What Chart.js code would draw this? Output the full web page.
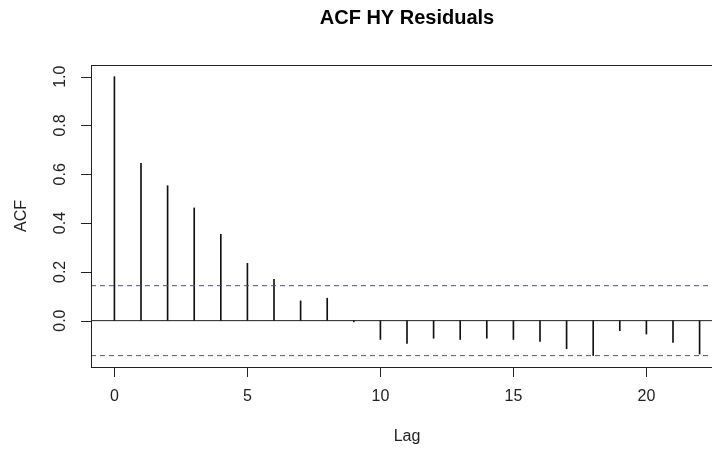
<!DOCTYPE html>
<html lang="en">
<head>
    <meta charset="UTF-8">
    <title>ACF HY Residuals</title>
    <script src="https://cdn.jsdelivr.net/npm/chart.js"></script>
    <style>
        html, body { margin: 0; padding: 0; background: #fff; overflow: hidden; }
        #wrap { width: 724px; height: 451px; }
    </style>
</head>
<body>
    <div id="wrap">
        <canvas id="acfChart" width="724" height="451"></canvas>
    </div>

    <script>
        // Lags and autocorrelations
        const lags = [0, 1, 2, 3, 4, 5, 6, 7, 8, 9, 10, 11, 12, 13, 14, 15, 16, 17, 18, 19, 20, 21, 22];
        const acfValues = [1.0, 0.645, 0.553, 0.462, 0.354, 0.235, 0.169, 0.081, 0.092, -0.005,
            -0.077, -0.093, -0.072, -0.077, -0.072, -0.077, -0.085, -0.115, -0.143, -0.041,
            -0.055, -0.089, -0.137];
        const ciBound = 0.1434;
        const xTicks = [0, 5, 10, 15, 20];
        const yTicks = [0.0, 0.2, 0.4, 0.6, 0.8, 1.0];
        const xRange = [-0.88, 22.88];
        const yRange = [-0.19, 1.048];

        const FONT = "'Liberation Sans', Arial, sans-serif";
        const TEXT = '#222';
        const CI_COLOR = '#4848c0';
        const TICK_LEN = 10;

        // R style: box, tick marks, rotated y tick labels, titles
        const rStylePlugin = {
            id: 'rStyle',
            afterDraw(chart) {
                const c = chart.ctx;
                const area = chart.chartArea;
                const xScale = chart.scales.x;
                const yScale = chart.scales.y;

                c.save();
                c.setLineDash([]);
                c.strokeStyle = '#222';
                c.lineWidth = 1;
                c.strokeRect(area.left + 0.5, area.top + 0.5, area.right - area.left, area.bottom - area.top);

                // tick marks, placed with the chart's own scales
                c.beginPath();
                xTicks.forEach(v => {
                    const px = Math.round(xScale.getPixelForValue(v)) + 0.5;
                    c.moveTo(px, area.bottom);
                    c.lineTo(px, area.bottom + TICK_LEN);
                });
                yTicks.forEach(v => {
                    const py = Math.round(yScale.getPixelForValue(v)) + 0.5;
                    c.moveTo(area.left, py);
                    c.lineTo(area.left - TICK_LEN, py);
                });
                c.stroke();

                c.fillStyle = TEXT;
                c.font = '16px ' + FONT;
                c.textAlign = 'center';
                c.textBaseline = 'middle';
                yTicks.forEach(v => {
                    const py = yScale.getPixelForValue(v);
                    c.save();
                    c.translate(61, py);
                    c.rotate(-Math.PI / 2);
                    c.fillText(v.toFixed(1), 0, 0);
                    c.restore();
                });

                // axis titles
                c.save();
                c.translate(22, (area.top + area.bottom) / 2);
                c.rotate(-Math.PI / 2);
                c.fillText('ACF', 0, 0);
                c.restore();
                c.fillText('Lag', (area.left + area.right) / 2, 437);

                // main title
                c.fillStyle = '#000';
                c.font = 'bold 20px ' + FONT;
                c.fillText('ACF HY Residuals', (area.left + area.right) / 2, 18);
                c.restore();
            }
        };

        const acfChart = new Chart(document.getElementById('acfChart'), {
            type: 'bar',
            data: {
                datasets: [
                    {
                        type: 'bar',
                        data: lags.map((lag, i) => ({ x: lag, y: acfValues[i] })),
                        backgroundColor: '#111',
                        borderWidth: 0,
                        barThickness: 1,
                        grouped: false,
                        order: 2
                    },
                    {
                        type: 'line',
                        data: [{ x: xRange[0], y: 0 }, { x: xRange[1], y: 0 }],
                        borderColor: '#222',
                        borderWidth: 1,
                        pointRadius: 0,
                        order: 1
                    },
                    {
                        type: 'line',
                        data: [{ x: xRange[0], y: ciBound }, { x: xRange[1], y: ciBound }],
                        borderColor: CI_COLOR,
                        borderWidth: 1,
                        borderDash: [5, 4],
                        pointRadius: 0,
                        order: 0
                    },
                    {
                        type: 'line',
                        data: [{ x: xRange[0], y: -ciBound }, { x: xRange[1], y: -ciBound }],
                        borderColor: CI_COLOR,
                        borderWidth: 1,
                        borderDash: [5, 4],
                        pointRadius: 0,
                        order: 0
                    }
                ]
            },
            options: {
                responsive: false,
                animation: false,
                layout: { padding: { top: 65, right: 1, left: 0, bottom: 0 } },
                plugins: {
                    legend: { display: false },
                    tooltip: { enabled: false },
                    title: { display: false }
                },
                scales: {
                    x: {
                        type: 'linear',
                        min: xRange[0],
                        max: xRange[1],
                        offset: false,
                        afterBuildTicks: scale => {
                            scale.ticks = xTicks.map(v => ({ value: v }));
                        },
                        afterFit: scale => { scale.height = 84; },
                        grid: { display: false },
                        border: { display: false },
                        ticks: {
                            color: TEXT,
                            font: { family: FONT, size: 16 },
                            padding: 12,
                            maxRotation: 0,
                            autoSkip: false
                        }
                    },
                    y: {
                        type: 'linear',
                        min: yRange[0],
                        max: yRange[1],
                        afterBuildTicks: scale => {
                            scale.ticks = yTicks.map(v => ({ value: v }));
                        },
                        afterFit: scale => { scale.width = 91; },
                        grid: { display: false },
                        border: { display: false },
                        // labels are drawn rotated by the plugin
                        ticks: { display: false }
                    }
                }
            },
            plugins: [rStylePlugin]
        });
    </script>
</body>
</html>
